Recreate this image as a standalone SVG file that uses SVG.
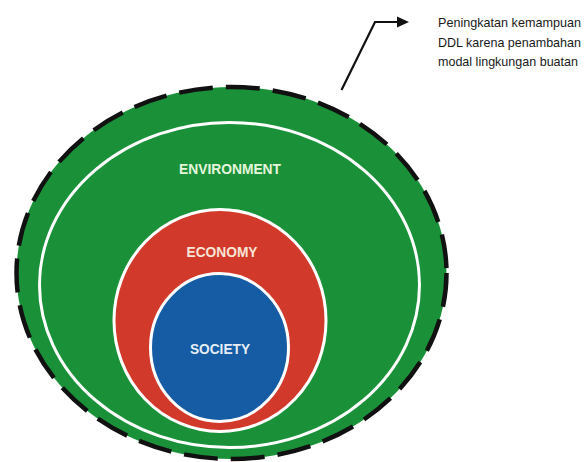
<svg xmlns="http://www.w3.org/2000/svg" width="588" height="462" viewBox="0 0 588 462">
  <style>
    .label { font-family: "Liberation Sans", Arial, sans-serif; font-weight: bold; font-size: 15.5px; text-anchor: middle; }
    .note { font-family: "Liberation Sans", Arial, sans-serif; font-size: 13px; fill: #1a1a1a; }
    .ring { fill: none; stroke: #ffffff; stroke-width: 3; }
  </style>
  <defs>
    <marker id="arrowhead" markerWidth="12" markerHeight="12" refX="2" refY="6" orient="auto" markerUnits="userSpaceOnUse">
      <path d="M0,0.5 L12,6 L0,11.5 Z" fill="#111"/>
    </marker>
  </defs>
  <rect width="588" height="462" fill="#ffffff"/>

  <!-- environment: outer green field with dashed boundary and inner white ring -->
  <g id="environment">
    <ellipse cx="231.5" cy="273" rx="215" ry="186" fill="#1a9139" stroke="#111" stroke-width="4.5" stroke-dasharray="34 13"/>
    <ellipse class="ring" cx="229.5" cy="285" rx="190" ry="162.5"/>
    <text class="label" x="230" y="174" fill="#e4f5dc" textLength="102" lengthAdjust="spacingAndGlyphs">ENVIRONMENT</text>
  </g>

  <!-- economy: red layer -->
  <g id="economy">
    <ellipse cx="220" cy="320.5" rx="106" ry="111" fill="#d13a2a" stroke="#ffffff" stroke-width="3"/>
    <text class="label" x="222" y="257" fill="#f6e4d6" textLength="71" lengthAdjust="spacingAndGlyphs">ECONOMY</text>
  </g>

  <!-- society: blue core -->
  <g id="society">
    <ellipse cx="219.5" cy="347.5" rx="69" ry="74" fill="#155ca4" stroke="#ffffff" stroke-width="3"/>
    <text class="label" x="220" y="354" fill="#e6edf7" textLength="60" lengthAdjust="spacingAndGlyphs">SOCIETY</text>
  </g>

  <!-- annotation text -->
  <g id="note">
    <text class="note" x="438" y="27" textLength="143" lengthAdjust="spacingAndGlyphs">Peningkatan kemampuan</text>
    <text class="note" x="438" y="47" textLength="143" lengthAdjust="spacingAndGlyphs">DDL karena penambahan</text>
    <text class="note" x="438" y="66" textLength="140" lengthAdjust="spacingAndGlyphs">modal lingkungan buatan</text>
  </g>

  <!-- connectors -->
  <g id="connectors">
    <path d="M341.5,90 L375,22 L399,22" fill="none" stroke="#111" stroke-width="2.2" marker-end="url(#arrowhead)"/>
  </g>
</svg>
